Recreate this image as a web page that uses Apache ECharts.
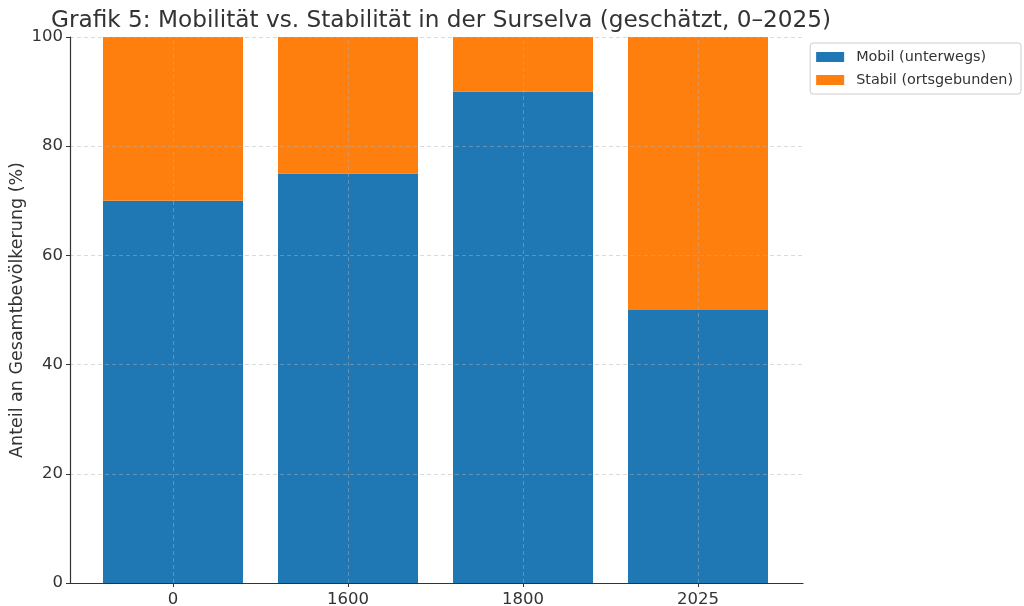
<!DOCTYPE html>
<html>
<head>
<meta charset="utf-8">
<script src="https://cdn.jsdelivr.net/npm/echarts@6/dist/echarts.min.js"></script>
<style>html,body{margin:0;padding:0;background:#fff}#c{width:1024px;height:606px}</style>
</head>
<body>
<div id="c"></div>
<script>
const categories = ['0', '1600', '1800', '2025'];
const mobil = [70, 75, 90, 50];
const stabil = [30, 25, 10, 50];
const yTicks = [0, 20, 40, 60, 80, 100];

const chart = echarts.init(document.getElementById('c'), null, {renderer: 'canvas'});
const font = 'DejaVu Sans';
const gridColor = 'rgba(176,176,176,0.6)';
chart.setOption({
  animation: false,
  backgroundColor: '#fff',
  title: {
    text: 'Grafik 5: Mobilität vs. Stabilität in der Surselva (geschätzt, 0–2025)',
    left: 436, top: 4, textAlign: 'center',
    textStyle: {fontFamily: font, fontSize: 23.2, fontWeight: 'normal', color: '#333'}
  },
  legend: {
    orient: 'vertical', right: 3, top: 43,
    padding: [7, 8, 7, 6], itemGap: 9,
    itemWidth: 28, itemHeight: 10, icon: 'rect',
    borderColor: '#cccccc', borderWidth: 1, borderRadius: 3,
    textStyle: {fontFamily: font, fontSize: 14.4, color: '#333', padding: [0, 0, 0, 7]},
    data: ['Mobil (unterwegs)', 'Stabil (ortsgebunden)']
  },
  grid: [
    {left: 85.5, width: 700, top: 37, bottom: 23, containLabel: false, outerBoundsMode: 'none'},
    {left: 70, right: 221, top: 37, bottom: 23, containLabel: false, outerBoundsMode: 'none'}
  ],
  xAxis: [
    {
      type: 'category', gridIndex: 0, data: categories, boundaryGap: true,
      axisLine: {show: false},
      axisTick: {show: true, alignWithLabel: true, length: 4, lineStyle: {color: '#333'}},
      axisLabel: {fontFamily: font, fontSize: 16.5, color: '#333', margin: 8},
      splitLine: {show: false}
    },
    {
      type: 'value', gridIndex: 1, min: 0, max: 1, z: 6,
      axisLine: {show: true, onZero: false, lineStyle: {color: '#333', width: 1.2}},
      axisTick: {show: false}, axisLabel: {show: false}, splitLine: {show: false}
    }
  ],
  yAxis: [
    {
      type: 'value', gridIndex: 0, min: 0, max: 100, show: false
    },
    {
      type: 'value', gridIndex: 1, min: 0, max: 100, interval: 20, z: 4,
      name: 'Anteil an Gesamtbevölkerung (%)', nameLocation: 'middle', nameGap: 44,
      nameMoveOverlap: false,
      nameTextStyle: {fontFamily: font, fontSize: 17.5, color: '#333'},
      axisLine: {show: true, onZero: false, lineStyle: {color: '#333', width: 1.2}},
      axisTick: {show: true, length: 4, lineStyle: {color: '#333'}},
      axisLabel: {fontFamily: font, fontSize: 16.5, color: '#333', margin: 7,
        formatter: v => yTicks.includes(v) ? String(v) : ''},
      splitLine: {show: true, lineStyle: {color: gridColor, type: [4, 3], width: 0.8}}
    }
  ],
  series: [
    {name: 'Mobil (unterwegs)', type: 'bar', stack: 's', barWidth: 140,
     xAxisIndex: 0, yAxisIndex: 0,
     itemStyle: {color: '#1f77b4'}, data: mobil},
    {name: 'Stabil (ortsgebunden)', type: 'bar', stack: 's', barWidth: 140,
     xAxisIndex: 0, yAxisIndex: 0,
     itemStyle: {color: '#ff7f0e'}, data: stabil},
    {name: 'vgrid', type: 'line', data: [], z: 5, silent: true,
     xAxisIndex: 0, yAxisIndex: 0,
     markLine: {symbol: 'none', silent: true, label: {show: false},
       lineStyle: {color: gridColor, type: [4, 3], width: 0.8},
       data: categories.map(c => ({xAxis: c}))}}
  ]
});
</script>
</body>
</html>
